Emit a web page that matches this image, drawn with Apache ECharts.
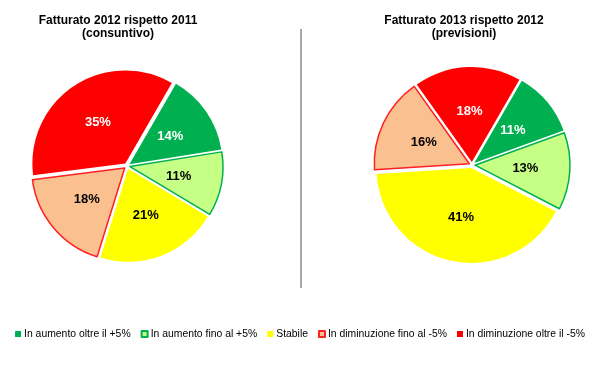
<!DOCTYPE html>
<html>
<head>
<meta charset="utf-8">
<script src="https://cdn.jsdelivr.net/npm/echarts@6/dist/echarts.min.js"></script>
<style>
html,body{margin:0;padding:0;background:#fff;}
#chart{width:600px;height:366px;}
</style>
</head>
<body>
<div id="chart"></div>
<script>
var categories = ['In aumento oltre il +5%', 'In aumento fino al +5%', 'Stabile', 'In diminuzione fino al -5%', 'In diminuzione oltre il -5%'];
var values2012 = [14, 11, 21, 18, 35];
var values2013 = [11, 13, 41, 16, 18];
var titles = ['Fatturato 2012 rispetto 2011\n(consuntivo)', 'Fatturato 2013 rispetto 2012\n(previsioni)'];

var fills = ['#00B050', '#C6FF86', '#FFFF00', '#FAC090', '#FF0000'];
var borders = [null, '#00B050', null, '#FF2020', null];
var labelColors = ['#ffffff', '#000000', '#000000', '#000000', '#ffffff'];

function buildData(vals) {
  return categories.map(function (name, i) {
    var st = { color: fills[i] };
    if (borders[i]) { st.borderColor = borders[i]; st.borderWidth = 1.5; }
    else { st.borderWidth = 0; }
    return {
      name: name,
      value: vals[i],
      selected: true,
      itemStyle: st,
      label: { color: labelColors[i] }
    };
  });
}

function pieSeries(vals, center, radius) {
  return {
    type: 'pie',
    center: center,
    radius: radius,
    startAngle: 60,
    clockwise: true,
    selectedMode: 'multiple',
    selectedOffset: 3,
    animation: false,
    emphasis: { disabled: true },
    label: {
      show: true,
      position: 'inside',
      formatter: '{c}%',
      fontFamily: 'Liberation Sans, Arial, sans-serif',
      fontWeight: 'bold',
      fontSize: 13
    },
    labelLine: { show: false },
    data: buildData(vals)
  };
}

var titleStyle = { fontFamily: 'Liberation Sans, Arial, sans-serif', fontWeight: 'bold', fontSize: 12, lineHeight: 13, color: '#000' };

var chart = echarts.init(document.getElementById('chart'), null, { renderer: 'canvas' });
chart.setOption({
  backgroundColor: '#ffffff',
  animation: false,
  title: [
    { text: titles[0], left: 113, top: 9, textAlign: 'center', textStyle: titleStyle },
    { text: titles[1], left: 459, top: 9, textAlign: 'center', textStyle: titleStyle }
  ],
  legend: {
    data: categories,
    left: 'center',
    top: 329,
    width: 598,
    padding: 0,
    icon: 'rect',
    itemWidth: 6,
    itemHeight: 6,
    itemGap: 10,
    selectedMode: false,
    textStyle: { fontFamily: 'Liberation Sans, Arial, sans-serif', fontSize: 10.4, color: '#000', padding: [0, 0, 0, -2] }
  },
  graphic: [
    {
      type: 'line',
      shape: { x1: 301, y1: 29, x2: 301, y2: 288 },
      style: { stroke: '#8c8c8c', lineWidth: 1.5 }
    }
  ],
  series: [
    pieSeries(values2012, [127, 166], 93),
    pieSeries(values2013, [472, 165], 95)
  ]
});
</script>
</body>
</html>
